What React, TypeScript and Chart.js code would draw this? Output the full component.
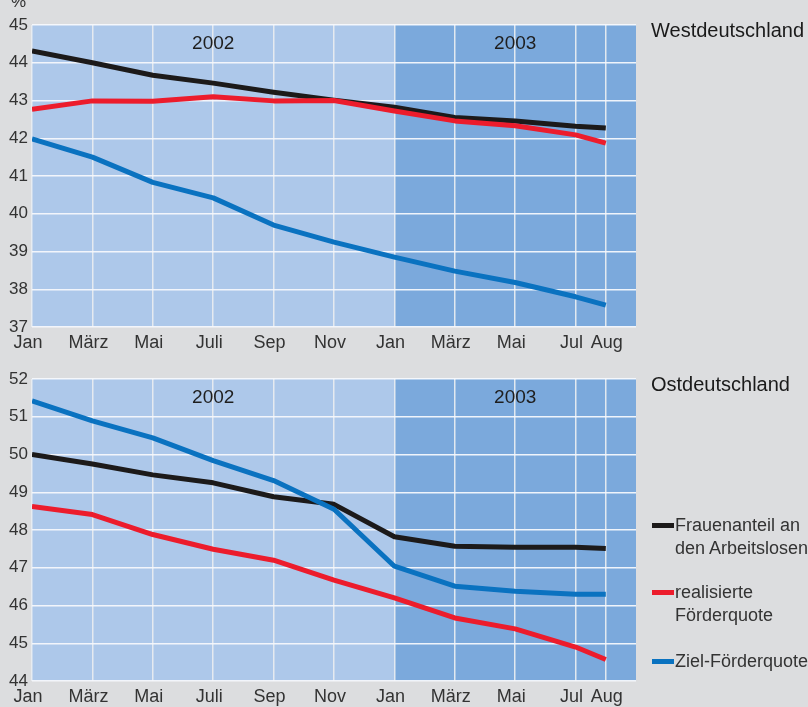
import React, { useEffect, useRef } from "react";
import { Chart, registerables } from "chart.js";

Chart.register(...registerables);

// ---- data ----
const monthIdx = [0, 2, 4, 6, 8, 10, 12, 14, 16, 18, 19];
const tickValues = [0, 2, 4, 6, 8, 10, 12, 14, 16, 18, 19, 20];
const tickLabels = ["Jan", "März", "Mai", "Juli", "Sep", "Nov", "Jan", "März", "Mai", "Jul", "  Aug", ""];
const yearLabels = ["2002", "2003"];
const yearLabelAt = [6, 16];
const shadeFrom = 12;

const westFrauen = [44.31, 44.0, 43.67, 43.46, 43.22, 43.01, 42.82, 42.55, 42.46, 42.32, 42.27];
const westReal = [42.77, 42.99, 42.98, 43.1, 42.99, 43.0, 42.72, 42.46, 42.33, 42.09, 41.87];
const westZiel = [41.98, 41.5, 40.83, 40.42, 39.7, 39.25, 38.85, 38.48, 38.18, 37.8, 37.58];

const eastFrauen = [50.0, 49.75, 49.46, 49.25, 48.88, 48.68, 47.82, 47.57, 47.54, 47.54, 47.51];
const eastReal = [48.62, 48.41, 47.88, 47.49, 47.2, 46.67, 46.2, 45.67, 45.38, 44.9, 44.57];
const eastZiel = [51.42, 50.89, 50.44, 49.84, 49.31, 48.55, 47.04, 46.51, 46.38, 46.3, 46.3];

const legendLabels = ["Frauenanteil an\nden Arbeitslosen", "realisierte\nFörderquote", "Ziel-Förderquote"];

const COLORS = { black: "#1c1a1a", red: "#ec1c2c", blue: "#0a72c0" };
const FONT = "'Liberation Sans', Arial, Helvetica, sans-serif";
const CW = 808;
const CH = 354;

function LineChart({ frauen, real, ziel, yMin, yMax }: { frauen: number[]; real: number[]; ziel: number[]; yMin: number; yMax: number }) {
  const ref = useRef<HTMLCanvasElement>(null);
  useEffect(() => {
    if (!ref.current) return;
    const toPts = (arr: number[]) => arr.map((v, i) => ({ x: monthIdx[i], y: v }));
    const bgPlugin = {
      id: "bg",
      beforeDraw(chart: any) {
        const { ctx, chartArea: a, scales } = chart;
        ctx.save();
        ctx.fillStyle = "#adc8ea";
        ctx.fillRect(a.left, a.top, a.right - a.left, a.bottom - a.top);
        const xs = scales.x.getPixelForValue(shadeFrom);
        ctx.fillStyle = "#7ba9dc";
        ctx.fillRect(xs, a.top, a.right - xs, a.bottom - a.top);
        ctx.restore();
      },
      beforeDatasetsDraw(chart: any) {
        const { ctx, chartArea: a, scales } = chart;
        ctx.save();
        ctx.fillStyle = "#1e1e1e";
        ctx.font = `19px ${FONT}`;
        ctx.textAlign = "center";
        ctx.textBaseline = "middle";
        yearLabels.forEach((t, i) => {
          ctx.fillText(t, scales.x.getPixelForValue(yearLabelAt[i]), a.top + 19);
        });
        ctx.restore();
      },
    };
    const chart = new Chart(ref.current, {
      type: "line",
      data: {
        datasets: [
          { label: "Frauen", data: toPts(frauen), borderColor: COLORS.black, order: 3 },
          { label: "Real", data: toPts(real), borderColor: COLORS.red, order: 2 },
          { label: "Ziel", data: toPts(ziel), borderColor: COLORS.blue, order: 1 },
        ].map((d) => ({ ...d, borderWidth: 5, pointRadius: 0, tension: 0, fill: false, borderJoinStyle: "round" as const })),
      },
      plugins: [bgPlugin],
      options: {
        responsive: false,
        animation: false,
        devicePixelRatio: 1,
        layout: { padding: { left: 0, right: 172, top: 25, bottom: 0 } },
        plugins: { legend: { display: false }, tooltip: { enabled: false } },
        scales: {
          x: {
            type: "linear",
            min: 0,
            max: 20,
            afterBuildTicks: (axis: any) => {
              axis.ticks = tickValues.map((v) => ({ value: v }));
            },
            afterFit: (s: any) => {
              s.height = 27;
            },
            ticks: {
              autoSkip: false,
              maxRotation: 0,
              padding: 5,
              labelOffset: -4,
              color: "#333",
              font: { family: FONT, size: 18 },
              callback: (v: any) => tickLabels[tickValues.indexOf(Number(v))],
            },
            grid: {
              drawTicks: false,
              lineWidth: 1.5,
              color: (c: any) => (c.tick && c.tick.value === 20 ? "rgba(0,0,0,0)" : "rgba(232,236,240,0.95)"),
            },
            border: { display: false },
          },
          y: {
            min: yMin,
            max: yMax,
            afterFit: (s: any) => {
              s.width = 32;
            },
            ticks: { stepSize: 1, padding: 4, color: "#333", font: { family: FONT, size: 17 } },
            grid: { drawTicks: false, lineWidth: 1.5, color: "rgba(245,248,252,0.95)" },
            border: { display: false },
          },
        },
      },
    });
    return () => chart.destroy();
  }, []);
  return <canvas ref={ref} width={CW} height={CH} style={{ display: "block", width: CW, height: CH }} />;
}

const textStyle: React.CSSProperties = {
  position: "absolute",
  fontFamily: FONT,
  fontSize: 18,
  lineHeight: "23px",
  color: "#333",
  whiteSpace: "pre",
};

export default function App() {
  useEffect(() => {
    document.body.style.margin = "0";
    document.body.style.background = "#dcdddf";
  }, []);
  const swatch = [COLORS.black, COLORS.red, COLORS.blue];
  const legendTops = [514, 581, 650];
  return (
    <div style={{ position: "relative", width: CW, height: 707, overflow: "hidden", background: "#dcdddf" }}>
      <div style={{ position: "absolute", left: 0, top: 0 }}>
        <LineChart frauen={westFrauen} real={westReal} ziel={westZiel} yMin={37} yMax={45} />
      </div>
      <div style={{ position: "absolute", left: 0, top: 354 }}>
        <LineChart frauen={eastFrauen} real={eastReal} ziel={eastZiel} yMin={44} yMax={52} />
      </div>
      <div style={{ ...textStyle, left: 11, top: -8, fontSize: 17, lineHeight: "20px" }}>%</div>
      <div style={{ ...textStyle, left: 651, top: 19, fontSize: 20, color: "#1a1a1a" }}>Westdeutschland</div>
      <div style={{ ...textStyle, left: 651, top: 373, fontSize: 20, color: "#1a1a1a" }}>Ostdeutschland</div>
      {legendLabels.map((l, i) => (
        <React.Fragment key={i}>
          <div style={{ position: "absolute", left: 652, top: legendTops[i] + 9, width: 22, height: 5, background: swatch[i] }} />
          <div style={{ ...textStyle, left: 675, top: legendTops[i] }}>{l}</div>
        </React.Fragment>
      ))}
    </div>
  );
}
